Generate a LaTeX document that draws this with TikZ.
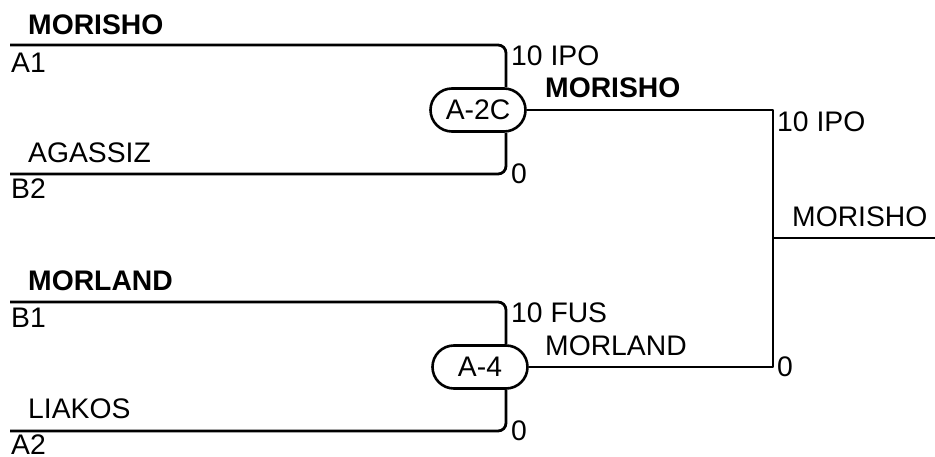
\documentclass[tikz,border=0pt]{standalone}
\usepackage{fontspec}
\setmainfont{Liberation Sans}
\usetikzlibrary{shapes.misc}
\begin{document}
\begin{tikzpicture}[x=1pt,y=-1pt,
  wire/.style={line width=2.8pt,line join=round},
  lbl/.style={inner sep=0pt,anchor=west,text height=20.2pt,text depth=0pt,font=\fontsize{28.3}{30}\selectfont},
  blbl/.style={lbl,font=\fontsize{28.3}{30}\selectfont\bfseries},
  game/.style={draw,line width=2.6pt,rounded rectangle,minimum width=95pt,minimum height=43pt,inner sep=0pt,font=\fontsize{28.3}{30}\selectfont}]
\useasboundingbox (0,0) rectangle (935,457);
% top bracket
\coordinate (a1s) at (10,45);
\coordinate (b2s) at (10,174);
\coordinate (j1t) at (506,45);
\coordinate (j1b) at (506,174);
\node[game] (g1) at (478,110) {A-2C};
\draw[wire,rounded corners=8pt] (a1s) -- (j1t) -- (j1t |- g1.north);
\draw[wire,rounded corners=8pt] (b2s) -- (j1b) -- (j1b |- g1.south);
% bottom bracket
\coordinate (b1s) at (10,302);
\coordinate (a2s) at (10,431);
\coordinate (j2t) at (506,302);
\coordinate (j2b) at (506,431);
\node[game] (g2) at (480,367) {A-4};
\draw[wire,rounded corners=8pt] (b1s) -- (j2t) -- (j2t |- g2.north);
\draw[wire,rounded corners=8pt] (a2s) -- (j2b) -- (j2b |- g2.south);
% final
\coordinate (ft) at (773,110);
\coordinate (fb) at (773,367);
\coordinate (fm) at (773,238);
\coordinate (fe) at (935,238);
\draw[wire] (g1.east) -- (ft) -- (fb) -- (g2.east);
\draw[wire] (fm) -- (fe);
% labels
\node[blbl] (n1) at (28,24) {MORISHO};
\node[lbl] (t1) at (11,62) {A1};
\node[lbl] (n2) at (28,152) {AGASSIZ};
\node[lbl] (t2) at (11,188) {B2};
\node[lbl] (s1) at (511,55) {10 IPO};
\node[lbl] (s2) at (511,173) {0};
\node[blbl] (w1) at (545,87) {MORISHO};
\node[blbl] (n3) at (28,280) {MORLAND};
\node[lbl] (t3) at (11,317) {B1};
\node[lbl] (n4) at (28,408) {LIAKOS};
\node[lbl] (t4) at (11,444) {A2};
\node[lbl] (s3) at (511,312) {10 FUS};
\node[lbl] (s4) at (511,430) {0};
\node[lbl] (w2) at (545,345) {MORLAND};
\node[lbl] (s5) at (777,121) {10 IPO};
\node[lbl] (s6) at (777,366) {0};
\node[lbl] (w3) at (792,216) {MORISHO};
\end{tikzpicture}
\end{document}
